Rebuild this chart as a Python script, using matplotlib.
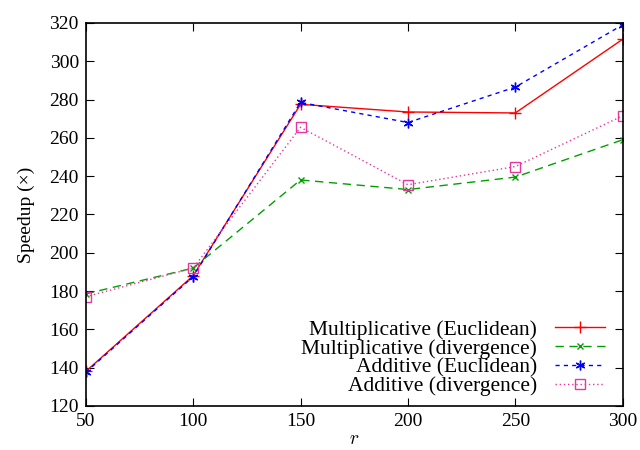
import matplotlib

matplotlib.use("Agg")
import matplotlib.pyplot as plt

plt.rcParams["font.family"] = ["Liberation Serif", "DejaVu Serif"]
plt.rcParams["mathtext.fontset"] = "cm"

r = [50, 100, 150, 200, 250, 300]
mult_euc = [138, 188, 277.5, 273.5, 273, 311.5]
mult_div = [178.5, 192, 238, 233, 239.5, 259]
add_euc = [137.5, 187.5, 278.5, 268, 286.5, 319]
add_div = [177, 192, 265.5, 235.5, 245, 271.5]

fig = plt.figure(figsize=(6.4, 4.5), dpi=100)
ax = fig.add_axes([0.134, 0.098, 0.839, 0.851])

ax.plot(r, mult_euc, color="red", lw=1, marker="+", ms=8, mew=1,
        label="Multiplicative (Euclidean)")
ax.plot(r, mult_div, color="#00a000", lw=1, ls=(0, (6, 4)), marker="x", ms=5, mew=1,
        label="Multiplicative (divergence)")
ax.plot(r, add_euc, color="blue", lw=1, ls=(0, (3, 3)), marker=(6, 2, 0), ms=7, mew=1,
        label="Additive (Euclidean)")
ax.plot(r, add_div, color="#e8359f", lw=1, ls=(0, (1, 2)), marker="s", ms=6.5, mew=1,
        mfc="none", label="Additive (divergence)")

ax.set_xlim(50, 300)
ax.set_ylim(120, 320)
ax.set_xticks(r)
ax.set_yticks(range(120, 321, 20))
for s in ax.spines.values():
    s.set_linewidth(1.2)
ax.tick_params(direction="in", top=True, right=True, length=6, labelsize=14, pad=5)
ax.set_xlabel("$r$", fontsize=14, labelpad=1)
ax.set_ylabel("Speedup (\u00d7)", fontsize=14, labelpad=10)

ax.legend(loc="lower right", bbox_to_anchor=(0.985, 0.0), frameon=False,
          markerfirst=False, fontsize=15.5, handlelength=2.3, labelspacing=-0.06,
          borderaxespad=0.15, handletextpad=0.85, borderpad=0.3)

fig.savefig("out.png")
